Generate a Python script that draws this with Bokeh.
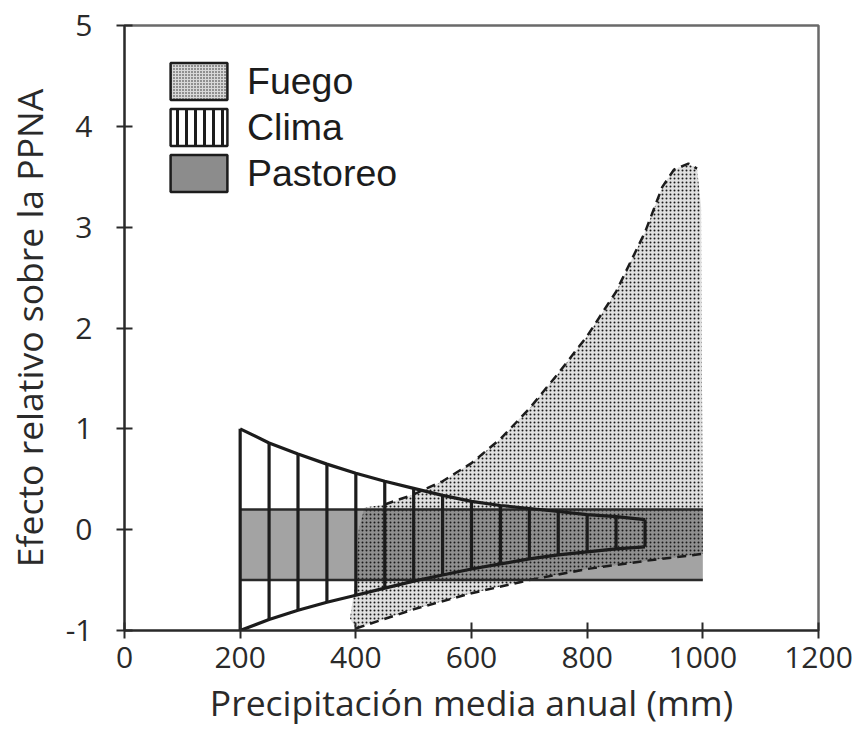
from bokeh.plotting import figure
from bokeh.models import Range1d, Legend, LegendItem, FixedTicker
from bokeh.embed import file_html
from bokeh.resources import INLINE

# ---- data ----
x_ticks = [0, 200, 400, 600, 800, 1000, 1200]
y_ticks = [-1, 0, 1, 2, 3, 4, 5]

# Pastoreo (grazing): constant band
pastoreo_x = [200, 1000]
pastoreo_low = -0.5
pastoreo_high = 0.2

# Clima (climate): narrowing band
clima_x = [200, 250, 300, 350, 400, 450, 500, 550, 600, 650, 700, 750, 800, 850, 900]
clima_top = [1.0, 0.86, 0.75, 0.65, 0.56, 0.48, 0.41, 0.34, 0.28, 0.24, 0.21, 0.18, 0.15, 0.13, 0.10]
clima_bottom = [-1.0, -0.89, -0.80, -0.72, -0.65, -0.58, -0.51, -0.45, -0.39, -0.34, -0.29, -0.25, -0.22, -0.19, -0.17]

# Fuego (fire): widening band
fire_upper_x = [450, 500, 550, 600, 650, 700, 750, 800, 850, 900, 930, 950, 975, 990]
fire_upper_y = [0.25, 0.35, 0.48, 0.66, 0.90, 1.20, 1.55, 1.92, 2.36, 2.95, 3.40, 3.57, 3.63, 3.58]
fire_lower_x = [400, 500, 600, 700, 800, 900, 1000]
fire_lower_y = [-0.98, -0.79, -0.63, -0.50, -0.39, -0.31, -0.24]
fire_left_x = [390, 400, 405, 415]
fire_left_y = [-0.88, -0.50, 0.00, 0.22]
fire_right_x = [997, 1000]
fire_right_y = [3.20, -0.24]

NAN = float("nan")
FONT = "Open Sans"
LEG_FONT = "Liberation Sans"
DARK = "#1c1c1c"

p = figure(width=856, height=729, x_range=Range1d(0, 1200), y_range=Range1d(-1, 5),
           output_backend="svg", toolbar_location=None,
           min_border_left=124, min_border_right=38, min_border_top=25, min_border_bottom=99)
p.grid.visible = False
p.outline_line_color = "#6a6a6a"
p.outline_line_width = 2.5
p.background_fill_color = "white"
p.border_fill_color = "white"

p.xaxis.ticker = FixedTicker(ticks=x_ticks)
p.yaxis.ticker = FixedTicker(ticks=y_ticks)
p.yaxis.major_label_overrides = {-1: "-1"}
p.xaxis.axis_label = "Precipitación media anual (mm)"
p.yaxis.axis_label = "Efecto relativo sobre la PPNA"
for ax in [p.xaxis[0], p.yaxis[0]]:
    ax.axis_line_color = "#2a2a2a"
    ax.axis_line_width = 2
    ax.major_tick_line_color = "#2a2a2a"
    ax.major_tick_line_width = 2
    ax.major_tick_in = 8
    ax.major_tick_out = 8
    ax.minor_tick_in = 0
    ax.minor_tick_out = 0
    ax.major_label_text_font = FONT
    ax.major_label_text_font_size = "30px"
    ax.major_label_text_color = "#2a2a2a"
    ax.axis_label_text_font = FONT
    ax.axis_label_text_font_size = "35.5px"
    ax.axis_label_text_font_style = "normal"
    ax.axis_label_text_color = "#2a2a2a"
p.xaxis.major_label_standoff = 8
p.xaxis.axis_label_standoff = 7
p.yaxis.major_label_standoff = 24
p.yaxis.axis_label_standoff = 10

# Pastoreo band
p.quad(left=[pastoreo_x[0]], right=[pastoreo_x[1]], bottom=[pastoreo_low], top=[pastoreo_high],
       fill_color="#a3a3a3", line_color=None)

# Fuego stippled region
fire_xs = fire_left_x + fire_upper_x + fire_right_x + fire_lower_x[::-1]
fire_ys = fire_left_y + fire_upper_y + fire_right_y + fire_lower_y[::-1]
p.patch(fire_xs, fire_ys, fill_color="#000000", fill_alpha=0.12, line_color=None,
        hatch_pattern="dot", hatch_scale=4, hatch_weight=2.9, hatch_color="#1a1a1a")
p.line(fire_upper_x, fire_upper_y, line_color=DARK, line_width=2.5, line_dash="9 6")
p.line(fire_lower_x, fire_lower_y, line_color=DARK, line_width=2.5, line_dash="9 6")

# Pastoreo band edges
p.segment(x0=[pastoreo_x[0], pastoreo_x[0]], y0=[pastoreo_high, pastoreo_low],
          x1=[pastoreo_x[1], pastoreo_x[1]], y1=[pastoreo_high, pastoreo_low],
          line_color="#2a2a2a", line_width=2.5)

# Clima band
p.line(clima_x, clima_top, line_color=DARK, line_width=3.2)
p.line(clima_x, clima_bottom, line_color=DARK, line_width=3.2)
p.segment(x0=clima_x, y0=clima_bottom, x1=clima_x, y1=clima_top, line_color=DARK, line_width=3.2)

# Legend proxies (no visible marks of their own)
leg_fire = p.patch(x=[NAN, NAN, NAN], y=[NAN, NAN, NAN], fill_color="#d8d8d8", line_color=DARK, line_width=2.5,
                   hatch_pattern="dot", hatch_scale=3, hatch_weight=2.2, hatch_color="#222")
leg_clima = p.patch(x=[NAN, NAN, NAN], y=[NAN, NAN, NAN], fill_color="white", line_color=DARK, line_width=2.5,
                    hatch_pattern="vertical_line", hatch_scale=9, hatch_weight=3, hatch_color=DARK)
leg_past = p.patch(x=[NAN, NAN, NAN], y=[NAN, NAN, NAN], fill_color="#8c8c8c", line_color=DARK, line_width=2.5)

legend = Legend(items=[LegendItem(label="Fuego", renderers=[leg_fire]),
                       LegendItem(label="Clima", renderers=[leg_clima]),
                       LegendItem(label="Pastoreo", renderers=[leg_past])],
                location=(29, 424), glyph_width=71, glyph_height=46, label_standoff=13,
                spacing=0, padding=10, margin=0,
                label_text_font=LEG_FONT, label_text_font_size="37.5px", label_text_color="#1c1c1c",
                border_line_alpha=0, background_fill_alpha=0)
p.add_layout(legend)

open("out.html", "w").write(file_html(p, INLINE))
